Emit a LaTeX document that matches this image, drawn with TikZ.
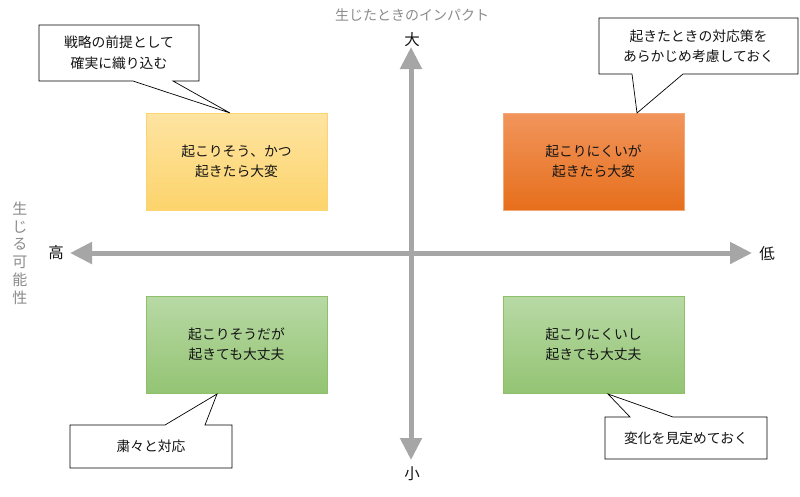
\documentclass[tikz,border=0pt]{standalone}
\usepackage{fontspec}
\newfontfamily\jp{Noto Sans CJK JP}
\usetikzlibrary{arrows.meta}
\definecolor{arrowgray}{HTML}{A6A6A6}
\definecolor{labelgray}{HTML}{8C8C8C}
\definecolor{txt}{HTML}{141414}
\definecolor{ytop}{HTML}{FEE4A2}
\definecolor{ybot}{HTML}{FDD46C}
\definecolor{yline}{HTML}{F9D471}
\definecolor{otop}{HTML}{F1955C}
\definecolor{obot}{HTML}{E66F1C}
\definecolor{oline}{HTML}{F4A878}
\definecolor{gtop}{HTML}{B8D9A5}
\definecolor{gbot}{HTML}{93C473}
\definecolor{gline}{HTML}{8CC06B}
\begin{document}
\begin{tikzpicture}[x=1pt,y=-1pt,
  jp/.style={font=\jp\fontsize{13.8}{20.5}\selectfont, align=center, inner sep=0pt, text=txt},
  axislabel/.style={font=\jp\fontsize{15.5}{18}\selectfont, inner sep=0pt, text=txt},
  graylabel/.style={font=\jp\fontsize{14}{18}\selectfont, inner sep=0pt, text=labelgray, align=center},
  axisarrow/.style={line width=5pt, draw=arrowgray, {Triangle[width=21pt,length=22pt]}-{Triangle[width=21pt,length=22pt]}},
  quad/.style={draw, line width=0.8pt, minimum width=181pt, minimum height=97pt, jp},
  callout/.style={draw=black, fill=white, line width=0.7pt, line join=miter}
]
\useasboundingbox (0,0) rectangle (800,496);
\fill[white] (0,0) rectangle (800,496);

% axes
\coordinate (vtop) at (411,47);
\coordinate (vbot) at (411,460);
\coordinate (hleft) at (70,253);
\coordinate (hright) at (752,253);
\draw[axisarrow] (hleft) -- (hright);
\draw[axisarrow] (vtop) -- (vbot);

% axis labels
\node[graylabel] (ttl) at (412,15) {生じたときのインパクト};
\node[graylabel, font=\jp\fontsize{15}{17.8}\selectfont] (vlab) at (20,253) {生\\じ\\る\\可\\能\\性};
\node[axislabel] (big) at (412,40) {大};
\node[axislabel] (small) at (412,474) {小};
\node[axislabel] (high) at (56,253) {高};
\node[axislabel] (low) at (767,254) {低};

% quadrants
\node[quad, draw=yline, top color=ytop, bottom color=ybot] (tl) at (236.5,161.5) {起こりそう、かつ\\起きたら大変};
\node[quad, draw=oline, top color=otop, bottom color=obot] (tr) at (593.5,161.5) {起こりにくいが\\起きたら大変};
\node[quad, draw=gline, top color=gtop, bottom color=gbot] (bl) at (236.5,344.5) {起こりそうだが\\起きても大丈夫};
\node[quad, draw=gline, top color=gtop, bottom color=gbot] (br) at (593.5,344.5) {起こりにくいし\\起きても大丈夫};

% callouts
\draw[callout] (39,25) -- (199,25) -- (199,81) -- (173,81) -- (230,113) -- (133,81) -- (39,81) -- cycle;
\node[jp] (c1) at (119,53) {戦略の前提として\\確実に織り込む};

\draw[callout] (599,18) -- (798,18) -- (798,74) -- (683,74) -- (637,113) -- (632,74) -- (599,74) -- cycle;
\node[jp] (c2) at (698.5,46) {起きたときの対応策を\\あらかじめ考慮しておく};

\draw[callout] (70,425) -- (165,425) -- (217,394) -- (205,425) -- (232,425) -- (232,468) -- (70,468) -- cycle;
\node[jp] (c3) at (151,446.5) {粛々と対応};

\draw[callout] (605,417) -- (630,417) -- (608,394) -- (673,417) -- (767,417) -- (767,459) -- (605,459) -- cycle;
\node[jp] (c4) at (686,438) {変化を見定めておく};
\end{tikzpicture}
\end{document}
